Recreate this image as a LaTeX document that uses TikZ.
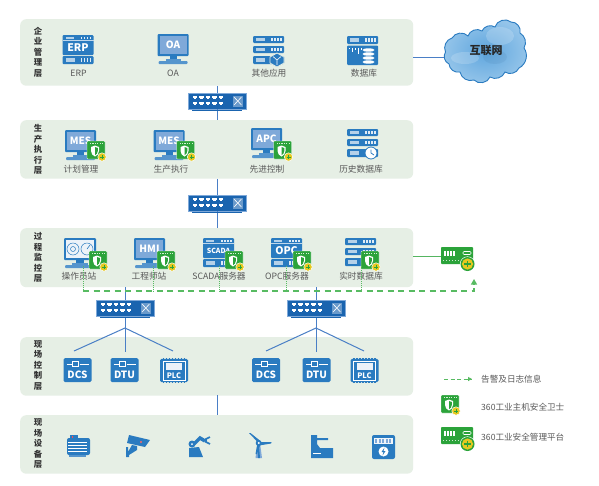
\documentclass[tikz,border=0pt]{standalone}
\usepackage{fontspec}
\setmainfont{Noto Sans CJK SC}
\usetikzlibrary{arrows.meta,calc}
\definecolor{bandc}{HTML}{E6EFE5}
\definecolor{iconb}{HTML}{2A7BC0}
\definecolor{iconl}{HTML}{7FA9D9}
\definecolor{swb}{HTML}{1A64AF}
\definecolor{linkb}{HTML}{4A7FC6}
\definecolor{gr}{HTML}{2BA33A}
\definecolor{dashg}{HTML}{58BB62}
\definecolor{yel}{HTML}{E6C81F}
\definecolor{txt}{HTML}{585858}
\definecolor{clouda}{HTML}{5FA6DE}
\definecolor{cloudb}{HTML}{95C5EA}
\tikzset{
 x=1pt,y=-1pt,
 band/.style={anchor=north west,fill=bandc,rounded corners=6pt,inner sep=0pt,minimum width=393pt},
 layer/.style={align=center,font=\fontsize{8.4}{10.5}\selectfont\bfseries,text=black!80,inner sep=0pt},
 lab/.style={font=\fontsize{8.7}{9}\selectfont,text=txt,inner sep=0pt},
 leg/.style={lab,anchor=west,font=\fontsize{8.6}{9}\selectfont},
 link/.style={draw=linkb,line width=1pt},
 alarm/.style={draw=dashg,line width=1.1pt,dash pattern=on 6pt off 4.5pt},
 tap/.style={draw=dashg,line width=.9pt,densely dotted},
 swnode/.style={fill=swb,draw=iconl,line width=.4pt,minimum width=58pt,minimum height=16pt,inner sep=0pt},
 icontxt/.style={text=white,inner sep=0pt,font=\fontsize{#1}{#1}\selectfont\bfseries},
 pics/swdetail/.style={code={
   \foreach \i in {0,...,4}{
     \fill[white] (-24+\i*6.4,-5) rectangle ++(4.4,2.4);
     \fill[white] (-24+\i*6.4,0.5) rectangle ++(4.4,2.4);
     \fill[white] (-23+\i*6.4,-2.6) rectangle ++(2.4,1);
     \fill[white] (-23+\i*6.4,2.9) rectangle ++(2.4,1);
   }
   \fill[swb!65!white] (15.5,-5.5) rectangle (26,5.5);
   \draw[white,line width=.6pt] (17,-4) -- (24.5,4) (17,4) -- (24.5,-4);
   \fill[swb] (-25,9) rectangle (25,10.4);
 }},
 pics/monitor/.style={code={
   \fill[iconb,rounded corners=1pt] (0,0) rectangle (31,22);
   \fill[iconl] (2,2) rectangle (29,20);
   \node[icontxt=10] at (15.5,11) {#1};
   \fill[iconb] (12,22) rectangle (19,25);
   \fill[iconb!80] (8,25) rectangle (23,26.5);
   \fill[iconb!80,rounded corners=1pt] (1,27) rectangle (30,30);
 }},
 pics/gaugemon/.style={code={
   \fill[iconb,rounded corners=1pt] (0,0) rectangle (32,22);
   \fill[white!85!iconl] (2,2) rectangle (30,20);
   \draw[iconb,line width=.5pt] (9,11) circle (6) (23,11) circle (6) (9,11) circle (2.5);
   \draw[iconb,line width=.6pt] (23,11) -- (26,7);
   \fill[iconb] (12,22) rectangle (20,25);
   \fill[iconb!80] (8,25) rectangle (24,26.5);
   \fill[iconb!80,rounded corners=1pt] (1,27) rectangle (31,30);
 }},
 pics/srvbar/.style={code={
   \fill[iconb,rounded corners=1pt] (0,0) rectangle (31,#1);
   \fill[white!65!iconb] (3,2) rectangle (12,{#1-2});
   \foreach \i in {18,21,24,27}{\fill[white!85!iconb] (\i,2) rectangle ++(1.5,{#1-4});}
 }},
 pics/bigsrv/.style 2 args={code={
   \fill[iconb,rounded corners=1pt] (0,0) rectangle (31,20);
   \fill[white!65!iconb] (3,1.5) rectangle (11,3.8);
   \foreach \i in {18,21,24,27}{\fill[white!85!iconb] (\i,1.5) rectangle ++(1.5,2.3);}
   \draw[white!70!iconb,line width=.4pt] (0,5.5) -- (31,5.5);
   \node[icontxt=#2] at (15.5,13) {#1};
   \pic at (0,21) {srvbar=8};
 }},
 pics/tiers/.style={code={
   \pic at (0,0) {srvbar=7};
   \pic at (0,10) {srvbar=7};
   \pic at (0,20) {srvbar=8};
 }},
 pics/badge/.style={code={
   \fill[gr,rounded corners=.8pt,draw=white,line width=.4pt] (0,0) rectangle (18,18);
   \foreach \i in {3,5.4,7.8,10.2,12.6,15}{\fill[white!80!gr] (\i,1.6) rectangle ++(1.2,1.2);}
   \fill[white] (4,6) -- (8,4.5) -- (12,6) -- (12,10) .. controls (12,13) and (10,14.5) .. (8,15.5) .. controls (6,14.5) and (4,13) .. (4,10) -- cycle;
   \fill[gr] (8,6) -- (10.8,7) -- (10.8,10) .. controls (10.8,12) and (9.5,13.5) .. (8,14.2) -- cycle;
   \fill[yel,draw=white,line width=.5pt] (15,16) circle (4.2);
   \draw[gr,line width=.8pt] (13,16) -- (17,16) (15,14) -- (15,18);
 }},
 pics/platform/.style={code={
   \fill[gr,rounded corners=.8pt] (0,0) rectangle (32,17);
   \foreach \i in {3,6,9,12}{\fill[white] (\i,4) rectangle ++(1.6,5);}
   \draw[white,line width=.6pt,rounded corners=1pt] (22,4.5) rectangle (30,7.5);
   \foreach \i in {2,5,8,11,14,17,20}{\fill[white!75!gr] (\i,12.5) rectangle ++(1.4,1.2);}
   \fill[white] (26.5,17) circle (7.6);
   \fill[gr] (26.5,17) circle (7);
   \fill[yel] (26.5,17) circle (5.6);
   \draw[gr,line width=1.1pt] (23.3,17) -- (29.7,17) (26.5,13.8) -- (26.5,20.2);
 }},
 pics/ctrl/.style={code={
   \fill[iconb,rounded corners=1.5pt] (0,0) rectangle (28,24);
   \draw[white,line width=.7pt] (3,6) -- (9,6) (16,6) -- (25,6);
   \draw[white,line width=.7pt] (9,3.8) rectangle (15,8.2);
   \node[icontxt=10] at (14,16.5) {#1};
 }},
 pics/plc/.style={code={
   \fill[iconb,rounded corners=1.5pt] (0,0.8) rectangle (28,24.2);
   \foreach \i in {2.5,5.5,...,25}{\fill[iconb] (\i,0) rectangle ++(1.6,25);}
   \draw[white,line width=.6pt] (3,3) rectangle (25,22);
   \fill[white!85!iconl] (6,5) rectangle (22,12);
   \node[icontxt=7.5] at (14,17.5) {PLC};
 }},
}
\begin{document}
\begin{tikzpicture}
\useasboundingbox (0,0) rectangle (599,485);
\fill[white] (0,0) rectangle (599,485);
% layers
\node[band,minimum height=66.5pt] (b1) at (20,19) {};
\node[band,minimum height=58.5pt] (b2) at (20,120) {};
\node[band,minimum height=59pt] (b3) at (20,228) {};
\node[band,minimum height=58.5pt] (b4) at (20,337) {};
\node[band,minimum height=58.5pt] (b5) at (20,415) {};
\node[layer] (l1) at (38,52) {企\\业\\管\\理\\层};
\node[layer] (l2) at (38,149.5) {生\\产\\执\\行\\层};
\node[layer] (l3) at (38,257.5) {过\\程\\监\\控\\层};
\node[layer] (l4) at (38,365.5) {现\\场\\控\\制\\层};
\node[layer] (l5) at (38,444) {现\\场\\设\\备\\层};
% switches
\node[swnode] (sw1) at (217,101) {};
\node[swnode] (sw2) at (217,203) {};
\node[swnode] (sw3) at (125,308) {};
\node[swnode] (sw4) at (316,308) {};
% links
\coordinate (c1) at (413,57);
\coordinate (netw) at (445.5,57);
\draw[link] (c1) -- (netw);
\draw[link] (sw1 |- b1.south) -- (sw1.north);
\draw[link] (sw1.south) -- (sw1 |- b2.north);
\draw[link] (sw2 |- b2.south) -- (sw2.north);
\draw[link] (sw2.south) -- (sw2 |- b3.north);
\coordinate (j3) at (125,328);
\coordinate (j4) at (316,328);
\coordinate (e31) at (74,351); \coordinate (e32) at (125,352); \coordinate (e33) at (173,351);
\coordinate (e41) at (266,351); \coordinate (e42) at (316,352); \coordinate (e43) at (364,351);
\draw[link] (sw3 |- b3.south) -- (e32);
\draw[link] (e31) -- (j3) -- (e33);
\draw[link] (sw4 |- b3.south) -- (e42);
\draw[link] (e41) -- (j4) -- (e43);
\draw[link] (217,395) -- (217,415);
\node[swnode] at (125,308) {};
\node[swnode] at (316,308) {};
\pic at (sw1) {swdetail};
\pic at (sw2) {swdetail};
\pic at (sw3) {swdetail};
\pic at (sw4) {swdetail};
% cloud
\path[draw=iconb,line width=.9pt,inner color=clouda,outer color=cloudb]
 (445.5,52) to[bend left=50] (452,38) to[bend left=55] (468,36) to[bend left=55] (482,31)
 to[bend left=50] (495,27) to[bend left=60] (511,22) to[bend left=55] (520,33) to[bend left=45] (524,48)
 to[bend left=50] (519,68) to[bend left=50] (505,72) to[bend left=50] (490,77) to[bend left=60] (474,80)
 to[bend left=50] (460,72) to[bend left=50] (449,64) to[bend left=50] (445.5,52) -- cycle;
\fill[white,opacity=.18] (465,58) ellipse (14 and 6);
\fill[white,opacity=.18] (500,36) ellipse (14 and 9);
\fill[black!40!iconb,opacity=.08] (495,57) ellipse (12 and 7);
\node[font=\fontsize{11}{11}\selectfont\bfseries,text=black!85,inner sep=0pt] (nett) at (486,50) {互联网};
% enterprise layer
\pic at (62.5,35) {bigsrv={ERP}{10.5}};
\node[lab] (t11) at (78.5,73) {ERP};
\pic at (157.5,34) {monitor=OA};
\node[lab] (t12) at (173,73) {OA};
\pic at (253,36) {tiers};
\fill[iconb,draw=bandc,line width=.8pt] (277,53) -- (284,57) -- (284,63) -- (277,67) -- (270,63) -- (270,57) -- cycle;
\draw[white,line width=.6pt] (273,56.5) -- (277,60) -- (281,56.5) (277,60) -- (277,65);
\node[lab] (t13) at (269,73) {其他应用};
\pic at (347,36) {srvbar=8};
\fill[iconb,rounded corners=1pt] (347,45.5) rectangle (378,65);
\foreach \a/\b in {349/49,352/52,355/50,358/54,361/50}{\draw[white,line width=.7pt] (\a,48) -- (\a,\b);}
\foreach \y in {50,54,58,62}{\fill[white] (368.5,\y) ellipse (6 and 1.7);}
\node[lab] (t14) at (364,73) {数据库};
% execution layer
\pic at (65,130) {monitor=MES};
\pic at (87,141) {badge};
\node[lab] (t21) at (81,169) {计划管理};
\pic at (153.5,130) {monitor=MES};
\pic at (176.5,141) {badge};
\node[lab] (t22) at (171,169) {生产执行};
\pic at (251,128) {monitor=APC};
\pic at (273.5,141) {badge};
\node[lab] (t23) at (267,169) {先进控制};
\pic at (347,129) {tiers};
\fill[white,draw=iconb,line width=.8pt] (371,153) circle (6);
\draw[iconb,line width=.8pt] (371,149.5) -- (371,153) -- (374,155);
\node[lab] (t24) at (361,169) {历史数据库};
% monitor layer
\pic at (64,238) {gaugemon};
\pic at (89,251) {badge};
\node[lab] (t31) at (79,276) {操作员站};
\pic at (134,238) {monitor=HMI};
\pic at (157,251) {badge};
\node[lab] (t32) at (149,276) {工程师站};
\pic at (203,238) {bigsrv={SCADA}{7}};
\pic at (225,251) {badge};
\node[lab] (t33) at (219,276) {SCADA服务器};
\pic at (271,238) {bigsrv={OPC}{10.5}};
\pic at (293,251) {badge};
\node[lab] (t34) at (287,276) {OPC服务器};
\pic at (345,238) {tiers};
\pic at (361,251) {badge};
\node[lab] (t35) at (361,276) {实时数据库};
% platform
\coordinate (pl) at (441,256.5);
\draw[draw=gr!80!white,line width=1pt] (pl -| b3.east) -- (pl);
\begin{scope}[shift={(441,247)},scale=1.25]
\pic at (0,0) {platform};
\end{scope}
\coordinate (a0) at (83,291);
\coordinate (a1) at (474,291);
\coordinate (a2) at (474,284);
\coordinate (a3) at (474,279);
\draw[alarm] (a0) -- (a1) -- (a2);
\draw[dashg,line width=1.1pt,-{Triangle[length=5.5pt,width=6pt]}] (a2) -- (a3);
\coordinate (d1) at (83,266); \coordinate (d2) at (153,266); \coordinate (d3) at (219,266); \coordinate (d4) at (286,266); \coordinate (d5) at (361,266);
\foreach \d in {d1,d2,d3,d4,d5}{\draw[tap] (\d) -- (\d |- a0);}
% control layer
\pic at (63.5,358) {ctrl=DCS};
\pic at (110.5,358) {ctrl=DTU};
\pic at (160,358) {plc};
\pic at (252,358) {ctrl=DCS};
\pic at (302.5,358) {ctrl=DTU};
\pic at (350.5,358) {plc};
% device layer
\begin{scope}[shift={(67,435)}]
\fill[iconb,rounded corners=2pt] (0,3) rectangle (23,20);
\fill[iconb] (3,0) rectangle (11,3);
\fill[red!70] (4.5,1) rectangle (6,2.5);
\fill[iconb!80] (2,20) rectangle (19,22);
\foreach \y in {7,10,13,16}{\draw[white,line width=.7pt] (1,\y) -- (20,\y);}
\end{scope}
\begin{scope}[shift={(126,435)}]
\fill[iconb] (3,0) -- (24,5) -- (19,12) -- (1,8) -- cycle;
\fill[red!60] (15,7) circle (1.2);
\fill[iconb] (6,10) -- (11,11) -- (11,15) -- (3,20) -- (3,22) -- (0,22) -- (0,12) -- (2,12) -- (2,17) -- cycle;
\end{scope}
\begin{scope}[shift={(188,434)}]
\fill[iconb] (1,14) -- (11,13) -- (15,23) -- (1,23) -- cycle;
\draw[iconb,line width=3.5pt] (4,12) -- (12,4) -- (17,7);
\fill[iconb] (4,10) circle (3.5);
\draw[iconb,line width=1.6pt] (22,3) -- (18,5) -- (18,8) -- (22,10);
\fill[white] (4,10) circle (1);
\end{scope}
\begin{scope}[shift={(249,433)}]
\fill[iconl] (6.5,25) -- (8.5,10) -- (11,10) -- (13,25) -- cycle;
\fill[iconb] (8.5,13) -- (10,13) -- (11,25) -- (9,25) -- cycle;
\fill[iconb] (9.5,10) -- (0,0) -- (1.5,0) -- (11.5,8) -- cycle;
\fill[iconb] (10,9) -- (22.5,9) -- (22,10.5) -- (10,12.5) -- cycle;
\fill[iconb] (8.5,10) -- (6.5,21) -- (8,21) -- (11.5,11) -- cycle;
\fill[iconb] (9.7,10) circle (3);
\fill[white] (9.7,10) circle (1.1);
\end{scope}
\begin{scope}[shift={(311,435)}]
\fill[iconb] (0,0) -- (6,0) -- (6,3) -- (17,3) -- (17,5) -- (6,5) -- (6,9) -- (9,13) -- (22,13) -- (22,23) -- (0,23) -- cycle;
\fill[white] (2,18) rectangle (10,19.2);
\end{scope}
\begin{scope}[shift={(372,435)}]
\fill[iconb,rounded corners=2pt] (0,0) rectangle (23,24);
\fill[white!88!iconl] (2,2.5) rectangle (21,9);
\foreach \i in {3,6.5,10,13.5,17}{\fill[iconl] (\i,3.5) rectangle ++(2.4,4.5);}
\fill[white] (11.5,16.5) circle (5);
\fill[iconb] (12.5,12.5) -- (9.5,17) -- (11.5,17) -- (10.5,20.5) -- (13.5,16) -- (11.5,16) -- cycle;
\end{scope}
% legend
\coordinate (lg0) at (444,379); \coordinate (lg1) at (472,379);
\draw[alarm,line width=1pt,dash pattern=on 4pt off 2.5pt] (lg0) -- (lg1);
\draw[dashg,line width=1pt,-{Triangle[length=4pt,width=4pt]}] (466,379) -- (lg1);
\node[leg] (lt1) at (481,379) {告警及日志信息};
\begin{scope}[shift={(441,395)},scale=1.25]
\pic at (0,0) {badge};
\end{scope}
\node[leg] (lt2) at (481,407) {360工业主机安全卫士};
\pic at (441,427) {platform};
\node[leg] (lt3) at (481,437) {360工业安全管理平台};
\end{tikzpicture}
\end{document}
